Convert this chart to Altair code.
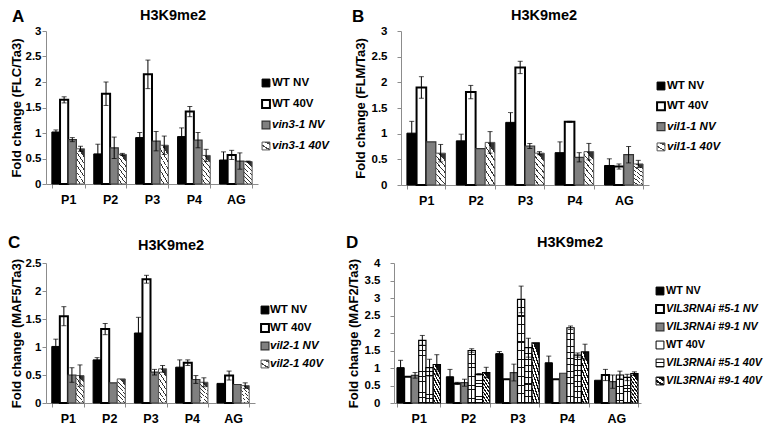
import altair as alt
import pandas as pd

FONT = "Liberation Sans"
groups = ["P1", "P2", "P3", "P4", "AG"]

# ---------------- Panel A (FLC) ----------------
a_series = ["WT NV", "WT 40V", "vin3-1 NV", "vin3-1 40V"]
a_italic = [False, False, True, True]
a_wt_nv = [1.02, 0.59, 0.91, 0.93, 0.47]
a_wt_nv_err = [0.04, 0.19, 0.10, 0.17, 0.16]
a_wt_40 = [1.65, 1.77, 2.15, 1.42, 0.57]
a_wt_40_err = [0.06, 0.23, 0.28, 0.10, 0.09]
a_mu_nv = [0.87, 0.71, 0.84, 0.86, 0.45]
a_mu_nv_err = [0.04, 0.21, 0.19, 0.15, 0.16]
a_mu_40 = [0.69, 0.58, 0.76, 0.56, 0.44]
a_mu_40_err = [0.05, 0.02, 0.18, 0.12, 0.01]

# ---------------- Panel B (FLM) ----------------
b_series = ["WT NV", "WT 40V", "vil1-1 NV", "vil1-1 40V"]
b_italic = [False, False, True, True]
b_wt_nv = [1.01, 0.86, 1.22, 0.63, 0.38]
b_wt_nv_err = [0.23, 0.13, 0.19, 0.21, 0.13]
b_wt_40 = [1.90, 1.81, 2.29, 1.23, 0.36]
b_wt_40_err = [0.21, 0.13, 0.12, 0.01, 0.05]
b_mu_nv = [0.84, 0.71, 0.76, 0.54, 0.59]
b_mu_nv_err = [0.0, 0.0, 0.05, 0.09, 0.16]
b_mu_40 = [0.62, 0.83, 0.62, 0.65, 0.41]
b_mu_40_err = [0.17, 0.21, 0.03, 0.16, 0.07]

# ---------------- Panel C (MAF5) ----------------
c_series = ["WT NV", "WT 40V", "vil2-1 NV", "vil2-1 40V"]
c_italic = [False, False, True, True]
c_wt_nv = [1.01, 0.77, 1.25, 0.64, 0.35]
c_wt_nv_err = [0.13, 0.04, 0.28, 0.13, 0.0]
c_wt_40 = [1.55, 1.32, 2.21, 0.72, 0.49]
c_wt_40_err = [0.17, 0.10, 0.07, 0.05, 0.08]
c_mu_nv = [0.50, 0.36, 0.55, 0.42, 0.33]
c_mu_nv_err = [0.13, 0.0, 0.05, 0.07, 0.0]
c_mu_40 = [0.49, 0.43, 0.61, 0.37, 0.31]
c_mu_40_err = [0.19, 0.0, 0.06, 0.08, 0.05]

# ---------------- Panel D (MAF2) ----------------
d_series = ["WT NV", "VIL3RNAi #5-1  NV", "VIL3RNAi #9-1  NV",
            "WT 40V", "VIL3RNAi #5-1  40V", "VIL3RNAi #9-1  40V"]
d_italic = [False, True, True, False, True, True]
d_wt_nv = [1.01, 0.75, 1.41, 1.15, 0.65]
d_wt_nv_err = [0.21, 0.21, 0.06, 0.19, 0.0]
d_r5_nv = [0.75, 0.56, 0.68, 0.68, 0.80]
d_r5_nv_err = [0.0, 0.03, 0.0, 0.0, 0.16]
d_r9_nv = [0.79, 0.58, 0.87, 0.85, 0.61]
d_r9_nv_err = [0.08, 0.10, 0.24, 0.0, 0.19]
d_wt_40 = [1.79, 1.50, 2.96, 2.15, 0.80]
d_wt_40_err = [0.14, 0.05, 0.38, 0.05, 0.11]
d_r5_40 = [1.01, 0.82, 1.58, 1.37, 0.73]
d_r5_40_err = [0.24, 0.02, 0.27, 0.06, 0.09]
d_r9_40 = [1.10, 0.87, 1.72, 1.46, 0.84]
d_r9_40_err = [0.28, 0.15, 0.0, 0.22, 0.05]


# ---------------- styles ----------------
def stripes(n, frac, color, x1, y1, x2, y2, bg="white"):
    stops = []
    for k in range(n):
        a = k / n
        b = (k + 1) / n
        m = b - frac / n
        stops += [alt.GradientStop(offset=round(a, 4), color=bg),
                  alt.GradientStop(offset=round(m, 4), color=bg),
                  alt.GradientStop(offset=round(m, 4), color=color),
                  alt.GradientStop(offset=round(b, 4), color=color)]
    return alt.LinearGradient(gradient="linear", stops=stops, x1=x1, y1=y1, x2=x2, y2=y2)


def vline_overlay():
    clear = "rgba(0,0,0,0)"
    return alt.LinearGradient(gradient="linear", x1=0, y1=0, x2=1, y2=0, stops=[
        alt.GradientStop(offset=0, color=clear), alt.GradientStop(offset=0.44, color=clear),
        alt.GradientStop(offset=0.44, color="#111"), alt.GradientStop(offset=0.56, color="#111"),
        alt.GradientStop(offset=0.56, color=clear), alt.GradientStop(offset=1, color=clear)])


STYLES = {
    "black": dict(fill="black", stroke="black", sw=1),
    "white_thick": dict(fill="white", stroke="black", sw=2),
    "gray": dict(fill="#808080", stroke="#333333", sw=1.2),
    "diag_thin": dict(fill=stripes(6, 0.22, "#333333", 0, 1, 0.35, 0), stroke="#555555", sw=1),
    "white_thin": dict(fill="white", stroke="black", sw=1),
    "hgrid_big": dict(fill=stripes(12, 0.14, "#111111", 0, 0, 0, 1), stroke="black", sw=1.2,
                      overlay=True),
    "hgrid_small": dict(fill=stripes(9, 0.18, "#111111", 0, 0, 0, 1), stroke="black", sw=1.2,
                        overlay=True),
    "diag_thick": dict(fill=stripes(8, 0.45, "#111111", 0, 1, 0.35, 0), stroke="black", sw=1.2),
}
SWATCH = {
    "black": STYLES["black"],
    "white_thick": STYLES["white_thick"],
    "gray": STYLES["gray"],
    "diag_thin": dict(fill=stripes(2, 0.25, "#444444", 0, 1, 0.6, 0), stroke="#555555", sw=1),
    "white_thin": STYLES["white_thin"],
    "hgrid_big": STYLES["white_thin"],
    "hgrid_small": dict(fill=stripes(2, 0.25, "#111111", 0, 0, 0, 1), stroke="black", sw=1),
    "diag_thick": dict(fill=stripes(2, 0.45, "#111111", 0, 1, 0.6, 0), stroke="black", sw=1),
}


def panel(series, styles, vals, errs, ymax, yticks, ytitle, width, height,
          letter, letter_x, letter_y, title_x, title_y, label_pad, title_pad, pin, pout):
    rows = []
    for s, vl, el in zip(series, vals, errs):
        for g, v, e in zip(groups, vl, el):
            rows.append({"group": g, "series": s, "value": v, "err": e,
                         "lo": v - e, "hi": v + e})
    df = pd.DataFrame(rows)
    base = alt.Chart(df)
    step = width / (len(groups) - pin + 2 * pout)
    band_px = step * (1 - pin)
    xax = alt.Axis(title=None, labelAngle=0, tickBand="extent", domainColor="#8c8c8c",
                   tickColor="#8c8c8c", tickSize=4, labelFont=FONT, labelFontSize=12.5,
                   labelFontWeight="bold", labelColor="black", labelPadding=5)
    x = alt.X("group:N", sort=groups, axis=xax,
              scale=alt.Scale(type="band", domain=groups, paddingInner=pin, paddingOuter=pout))
    xo = alt.XOffset("series:N",
                     scale=alt.Scale(type="band", domain=series, range=[0, band_px],
                                     paddingInner=0, paddingOuter=0))
    yax = alt.Axis(values=yticks, format="~g", title=ytitle, grid=False,
                   domainColor="#8c8c8c", tickColor="#8c8c8c", tickSize=4,
                   labelFont=FONT, labelFontSize=11.5, labelFontWeight="bold",
                   labelColor="black", labelPadding=label_pad,
                   titleFont=FONT, titleFontSize=13, titleFontWeight="bold",
                   titleColor="black", titlePadding=title_pad)
    ysc = alt.Scale(domain=[0, ymax], nice=False, zero=True)

    layers = []
    for s, st in zip(series, styles):
        sty = STYLES[st]
        sub = base.transform_filter(alt.datum.series == s)
        layers.append(sub.mark_bar(fill=sty["fill"], stroke=sty["stroke"],
                                   strokeWidth=sty["sw"], opacity=1).encode(
            x=x, xOffset=xo, y=alt.Y("value:Q", scale=ysc, axis=yax)))
        if sty.get("overlay"):
            layers.append(sub.mark_bar(fill=vline_overlay(), strokeOpacity=0).encode(
                x=x, xOffset=xo, y=alt.Y("value:Q", scale=ysc, axis=yax)))
    eb = base.transform_filter(alt.datum.err > 0)
    layers.append(eb.mark_rule(color="black", strokeWidth=1).encode(
        x=x, xOffset=xo, y=alt.Y("lo:Q", scale=ysc, axis=yax), y2="hi:Q"))
    layers.append(eb.transform_fold(["lo", "hi"], as_=["k", "ev"]).mark_tick(
        color="black", thickness=1, size=5).encode(
        x=x, xOffset=xo, y=alt.Y("ev:Q", scale=ysc, axis=yax)))
    layers.append(alt.Chart(pd.DataFrame({"t": [letter]})).mark_text(
        align="left", baseline="top", font=FONT, fontSize=17, fontWeight="bold",
        color="black").encode(text="t:N", x=alt.value(letter_x), y=alt.value(letter_y)))
    layers.append(alt.Chart(pd.DataFrame({"t": ["H3K9me2"]})).mark_text(
        align="center", baseline="top", font=FONT, fontSize=14.5, fontWeight="bold",
        color="black").encode(text="t:N", x=alt.value(title_x), y=alt.value(title_y)))
    return alt.layer(*layers).properties(width=width, height=height)


def legend(series, styles, italic, width, height, top, sp, sx, tx, fsize):
    n = len(series)
    df = pd.DataFrame({"label": series, "idx": list(range(n)), "italic": italic})
    ysc = alt.Scale(domain=[-top / sp, (height - top) / sp], reverse=True, nice=False,
                    zero=False)
    y = alt.Y("idx:Q", scale=ysc, axis=None)
    base = alt.Chart(df)
    layers = []
    for i, (s, st) in enumerate(zip(series, styles)):
        sty = SWATCH[st]
        layers.append(base.transform_filter(alt.datum.idx == i).mark_square(
            size=62, fill=sty["fill"], stroke=sty["stroke"], strokeWidth=sty["sw"],
            opacity=1).encode(x=alt.value(sx), y=y))
    layers.append(base.transform_filter("!datum.italic").mark_text(
        align="left", baseline="middle", font=FONT, fontSize=fsize, fontWeight="bold",
        color="black").encode(x=alt.value(tx), y=y, text="label:N"))
    layers.append(base.transform_filter("datum.italic").mark_text(
        align="left", baseline="middle", font=FONT, fontSize=fsize, fontWeight="bold",
        fontStyle="italic", color="black").encode(x=alt.value(tx), y=y, text="label:N"))
    return alt.layer(*layers).properties(width=width, height=height)


abc_styles = ["black", "white_thick", "gray", "diag_thin"]
d_styles = ["black", "white_thick", "gray", "hgrid_big", "hgrid_small", "diag_thick"]

A = panel(a_series, abc_styles, [a_wt_nv, a_wt_40, a_mu_nv, a_mu_40],
          [a_wt_nv_err, a_wt_40_err, a_mu_nv_err, a_mu_40_err],
          3, [0, 0.5, 1, 1.5, 2, 2.5, 3], "Fold change (FLC/Ta3)", 212, 153,
          "A", -34, -22, 127, -22, 1, 2, 0.22, 0.14)
A_leg = legend(a_series, abc_styles, a_italic, 90, 153, 52, 21, 4, 10, 11.5)

B = panel(b_series, abc_styles, [b_wt_nv, b_wt_40, b_mu_nv, b_mu_40],
          [b_wt_nv_err, b_wt_40_err, b_mu_nv_err, b_mu_40_err],
          3, [0, 0.5, 1, 1.5, 2, 2.5, 3], "Fold change (FLM/Ta3)", 248, 154,
          "B", -49, -22, 143, -22, 10, 4, 0.22, 0.12)
B_leg = legend(b_series, abc_styles, b_italic, 108, 154, 55, 20.3, 12, 18, 11.5)

C = panel(c_series, abc_styles, [c_wt_nv, c_wt_40, c_mu_nv, c_mu_40],
          [c_wt_nv_err, c_wt_40_err, c_mu_nv_err, c_mu_40_err],
          2.5, [0, 0.5, 1, 1.5, 2, 2.5], "Fold change (MAF5/Ta3)", 209, 140,
          "C", -38, -28, 125, -24, 1, 2, 0.22, 0.14)
C_leg = legend(c_series, abc_styles, c_italic, 91, 140, 47, 18, 10, 15, 11.5)

D = panel(d_series, d_styles, [d_wt_nv, d_r5_nv, d_r9_nv, d_wt_40, d_r5_40, d_r9_40],
          [d_wt_nv_err, d_r5_nv_err, d_r9_nv_err, d_wt_40_err, d_r5_40_err, d_r9_40_err],
          4, [0, 0.5, 1, 1.5, 2, 2.5, 3, 3.5, 4], "Fold change (MAF2/Ta3)", 247, 140,
          "D", -48, -28, 176, -27, 10, 4, 0.12, 0.06)
D_leg = legend(d_series, d_styles, d_italic, 116, 140, 28, 18, 19, 25, 10.8)

indep = dict(x="independent", y="independent", xOffset="independent")
top = alt.hconcat(A, A_leg, B, B_leg, spacing=0).resolve_scale(**indep)
bottom = alt.hconcat(C, C_leg, D, D_leg, spacing=0).resolve_scale(**indep)

chart = alt.vconcat(top, bottom, spacing=27).resolve_scale(**indep).properties(
    padding={"left": 0, "top": 0, "right": 0, "bottom": 0},
    background="white",
).configure_view(stroke=None)

chart.save("out.html", embed_options={"renderer": "svg", "actions": False})
